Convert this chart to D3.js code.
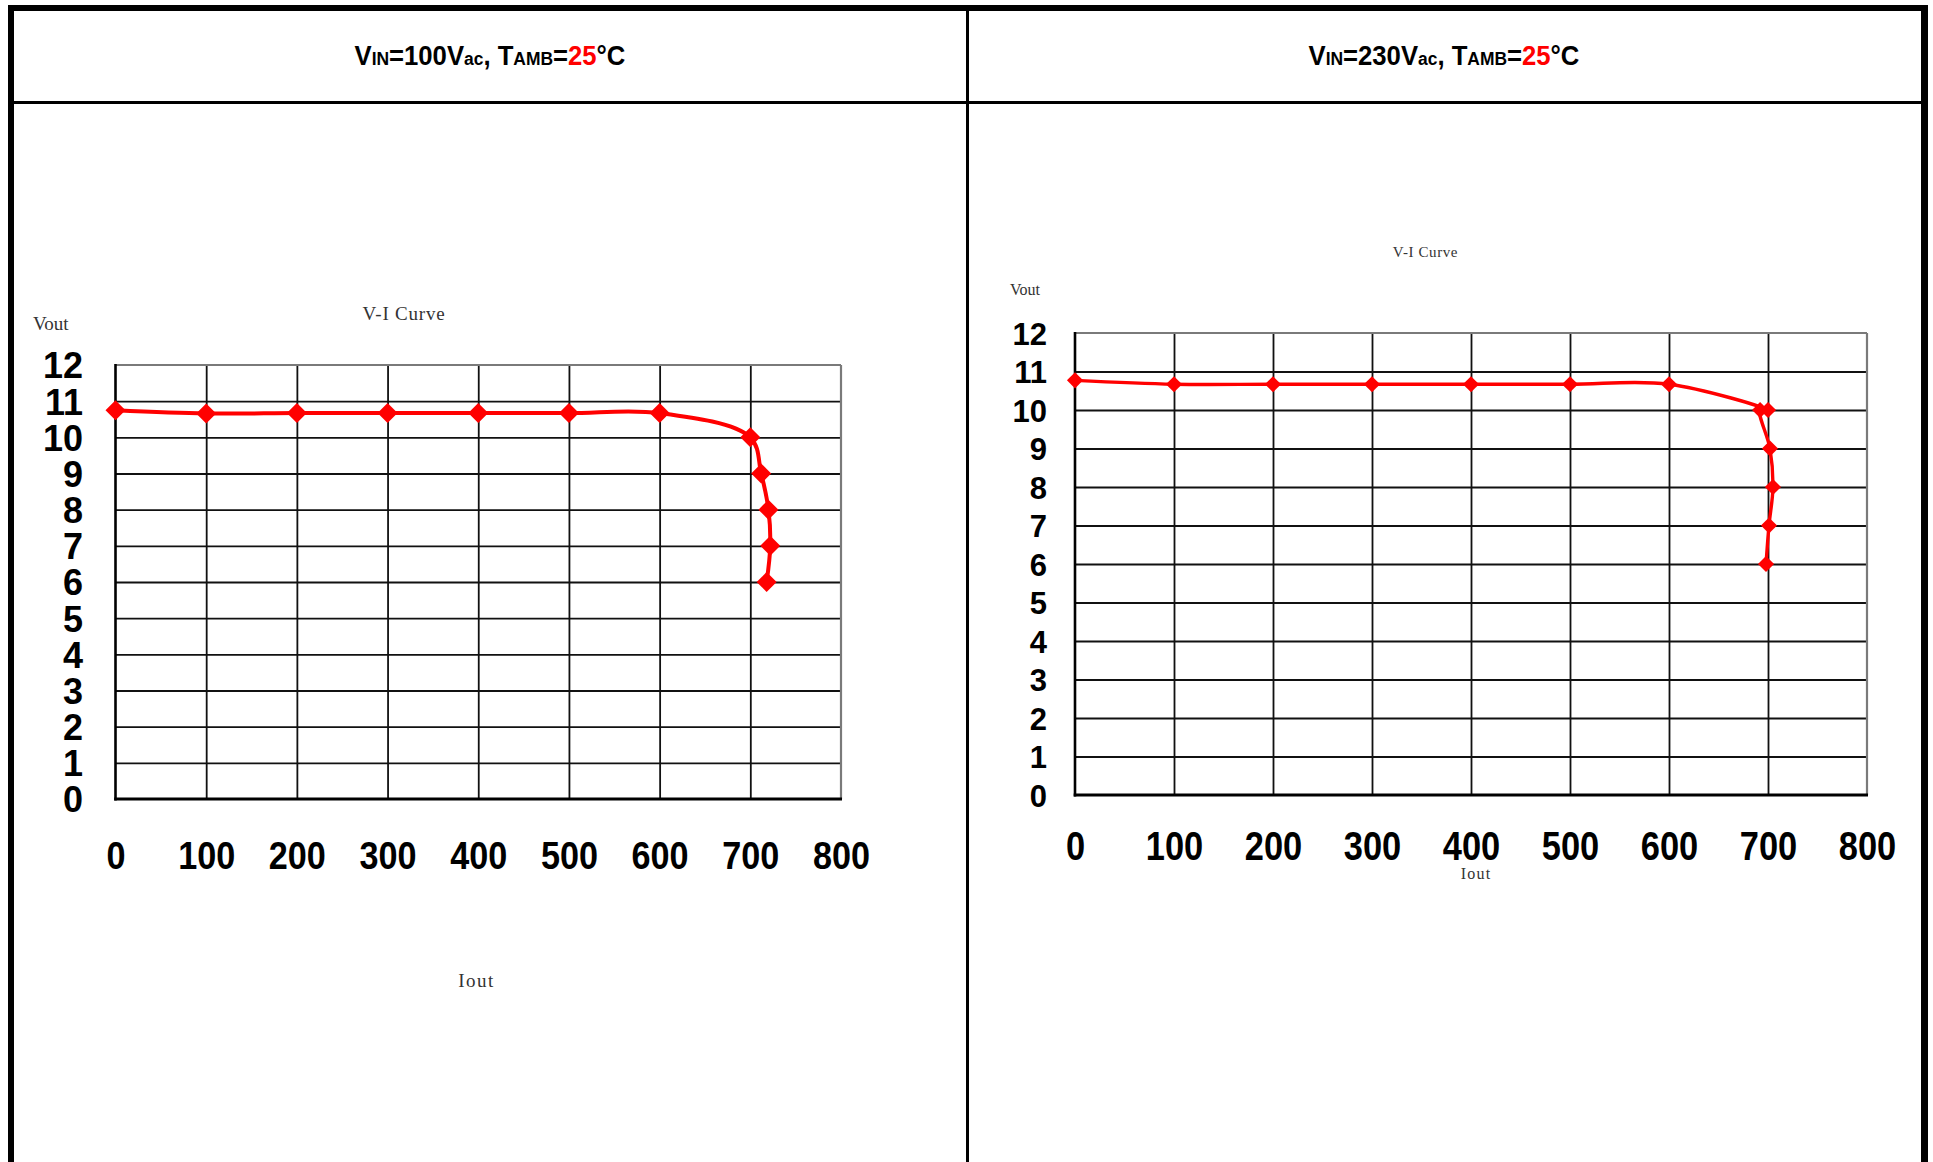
<!DOCTYPE html>
<html>
<head>
<meta charset="utf-8">
<script src="https://cdn.jsdelivr.net/npm/d3@7/dist/d3.min.js"></script>
<style>
  html, body { margin: 0; padding: 0; background: #fff; }
  svg { display: block; }
</style>
</head>
<body>
<svg id="chart" width="1933" height="1162"></svg>
<script>
// ---- data ----
const iOut100 = [0, 100, 200, 300, 400, 500, 600, 700, 712, 720, 722, 718];
const vOut100 = [10.75, 10.66, 10.67, 10.67, 10.67, 10.67, 10.67, 10.0, 9, 8, 7, 6];
const iOut230 = [0, 100, 200, 300, 400, 500, 600, 700, 692, 702, 705, 701, 698];
const vOut230 = [10.77, 10.67, 10.67, 10.67, 10.67, 10.67, 10.67, 10.0, 10.0, 9, 8, 7, 6];
const xTicks = [0, 100, 200, 300, 400, 500, 600, 700, 800];
const yTicks = [0, 1, 2, 3, 4, 5, 6, 7, 8, 9, 10, 11, 12];
const inputVoltages = ["100", "230"];
const ambientTemp = "25";
const chartTitle = "V-I Curve";
const yName = "Vout";
const xName = "Iout";

const svg = d3.select("#chart");

// ---- table frame ----
const frame = svg.append("g");
frame.append("rect").attr("x", 8).attr("y", 5).attr("width", 1920).attr("height", 6).attr("fill", "#000");
frame.append("rect").attr("x", 8).attr("y", 5).attr("width", 6).attr("height", 1157).attr("fill", "#000");
frame.append("rect").attr("x", 1921).attr("y", 5).attr("width", 7).attr("height", 1157).attr("fill", "#000");
frame.append("rect").attr("x", 966).attr("y", 5).attr("width", 3).attr("height", 1157).attr("fill", "#000");
frame.append("rect").attr("x", 8).attr("y", 101).attr("width", 1920).attr("height", 3).attr("fill", "#000");

// ---- panel layouts ----
const panels = [
  {
    vin: inputVoltages[0], iOut: iOut100, vOut: vOut100,
    cellCenter: 490,
    x0: 115.5, x1: 841, yTop: 365, yBot: 799,
    yLabelRight: 83, yLabelSize: 36,
    xLabelY: 855, xLabelSize: 38, xLabelScale: 0.9,
    titleX: 404, titleY: 320, titleSize: 19, titleSpacing: 0.8,
    vX: 33, vY: 330, vSize: 19,
    iX: 476.5, iY: 987, iSize: 19, iSpacing: 1.5,
    marker: 200, lineW: 4
  },
  {
    vin: inputVoltages[1], iOut: iOut230, vOut: vOut230,
    cellCenter: 1444,
    x0: 1075, x1: 1867, yTop: 333, yBot: 795,
    yLabelRight: 1047, yLabelSize: 31,
    xLabelY: 845, xLabelSize: 41, xLabelScale: 0.84,
    titleX: 1425.5, titleY: 257, titleSize: 15, titleSpacing: 0.6,
    vX: 1010, vY: 295, vSize: 16,
    iX: 1476, iY: 879, iSize: 16, iSpacing: 1.2,
    marker: 130, lineW: 3.4
  }
];

panels.forEach(p => {
  // header title: V_IN=xxxV_ac, T_AMB=25°C
  const big = 28, small = 19;
  const t = svg.append("text")
    .attr("y", 65)
    .attr("font-family", "'Liberation Sans', Arial, sans-serif")
    .attr("font-weight", "bold")
    .attr("font-size", big)
    .attr("fill", "#000");
  const parts = [
    ["V", big, "#000"], ["IN", small, "#000"], ["=" + p.vin + "V", big, "#000"],
    ["ac", small, "#000"], [", T", big, "#000"], ["AMB", small, "#000"],
    ["=", big, "#000"], [ambientTemp, big, "#ff0000"], ["°C", big, "#000"]
  ];
  parts.forEach(([s, fs, c]) => {
    t.append("tspan").attr("font-size", fs).attr("fill", c).text(s);
  });
  const tw = t.node().getComputedTextLength();
  const sx = 271 / tw;
  t.attr("transform", `translate(${p.cellCenter - 271 / 2},0) scale(${sx},1)`);

  // scales
  const x = d3.scaleLinear().domain([0, 800]).range([p.x0, p.x1]);
  const y = d3.scaleLinear().domain([0, 12]).range([p.yBot, p.yTop]);
  const w = p.x1 - p.x0, h = p.yBot - p.yTop;

  const g = svg.append("g");

  // horizontal gridlines
  g.append("g")
    .attr("transform", `translate(${p.x0},0)`)
    .call(d3.axisLeft(y).tickValues(yTicks.filter(v => v > 0 && v < 12)).tickSize(-w).tickFormat(""))
    .call(a => a.select(".domain").remove())
    .call(a => a.selectAll("line").attr("stroke", "#111").attr("stroke-width", 1.8));

  // vertical gridlines
  g.append("g")
    .attr("transform", `translate(0,${p.yBot})`)
    .call(d3.axisBottom(x).tickValues(xTicks.filter(v => v > 0 && v < 800)).tickSize(-h).tickFormat(""))
    .call(a => a.select(".domain").remove())
    .call(a => a.selectAll("line").attr("stroke", "#111").attr("stroke-width", 1.8));

  // plot border: top/right grey, left/bottom black
  g.append("line").attr("x1", x(0)).attr("x2", x(800)).attr("y1", y(12)).attr("y2", y(12))
    .attr("stroke", "#7a7a7a").attr("stroke-width", 2.2);
  g.append("line").attr("x1", x(800)).attr("x2", x(800)).attr("y1", y(12)).attr("y2", y(0))
    .attr("stroke", "#7a7a7a").attr("stroke-width", 2.2);
  g.append("line").attr("x1", x(0)).attr("x2", x(0)).attr("y1", y(12) - 1).attr("y2", y(0) + 1.5)
    .attr("stroke", "#000").attr("stroke-width", 2.6);
  g.append("line").attr("x1", x(0) - 1.3).attr("x2", x(800) + 1).attr("y1", y(0)).attr("y2", y(0))
    .attr("stroke", "#000").attr("stroke-width", 2.8);

  // y tick labels
  g.append("g")
    .attr("transform", `translate(${p.yLabelRight},0)`)
    .call(d3.axisLeft(y).tickValues(yTicks).tickSize(0).tickPadding(0))
    .call(a => a.select(".domain").remove())
    .call(a => a.selectAll("text")
      .attr("font-family", "'Liberation Sans', Arial, sans-serif")
      .attr("font-weight", "bold")
      .attr("font-size", p.yLabelSize)
      .attr("fill", "#000")
      .attr("dy", "0.36em"));

  // x tick labels
  g.append("g")
    .attr("transform", `translate(0,${p.xLabelY})`)
    .call(d3.axisBottom(x).tickValues(xTicks).tickSize(0).tickPadding(0))
    .call(a => a.select(".domain").remove())
    .call(a => a.selectAll("text")
      .attr("font-family", "'Liberation Sans', Arial, sans-serif")
      .attr("font-weight", "bold")
      .attr("font-size", p.xLabelSize)
      .attr("fill", "#000")
      .attr("y", 0)
      .attr("dy", "0.36em")
      .attr("transform", `scale(${p.xLabelScale},1)`));

  // chart caption and axis names
  const serif = "'Liberation Serif', 'Times New Roman', serif";
  svg.append("text").attr("x", p.titleX).attr("y", p.titleY)
    .attr("text-anchor", "middle").attr("font-family", serif)
    .attr("font-size", p.titleSize).attr("letter-spacing", p.titleSpacing)
    .attr("fill", "#333").text(chartTitle);
  svg.append("text").attr("x", p.vX).attr("y", p.vY)
    .attr("font-family", serif).attr("font-size", p.vSize)
    .attr("fill", "#333").text(yName);
  svg.append("text").attr("x", p.iX).attr("y", p.iY)
    .attr("text-anchor", "middle").attr("font-family", serif)
    .attr("font-size", p.iSize).attr("letter-spacing", p.iSpacing)
    .attr("fill", "#333").text(xName);

  // V-I curve
  const pts = p.iOut.map((d, i) => [d, p.vOut[i]]);
  const line = d3.line()
    .x(d => x(d[0])).y(d => y(d[1]))
    .curve(d3.curveCatmullRom.alpha(0.5));
  g.append("path").datum(pts)
    .attr("d", line)
    .attr("fill", "none")
    .attr("stroke", "#ff0000")
    .attr("stroke-width", p.lineW)
    .attr("stroke-linejoin", "round");

  const sym = d3.symbol().type(d3.symbolSquare).size(p.marker);
  g.selectAll(".mk").data(pts).enter().append("path")
    .attr("d", sym)
    .attr("transform", d => `translate(${x(d[0])},${y(d[1])}) rotate(45)`)
    .attr("fill", "#ff0000");
});
</script>
</body>
</html>
